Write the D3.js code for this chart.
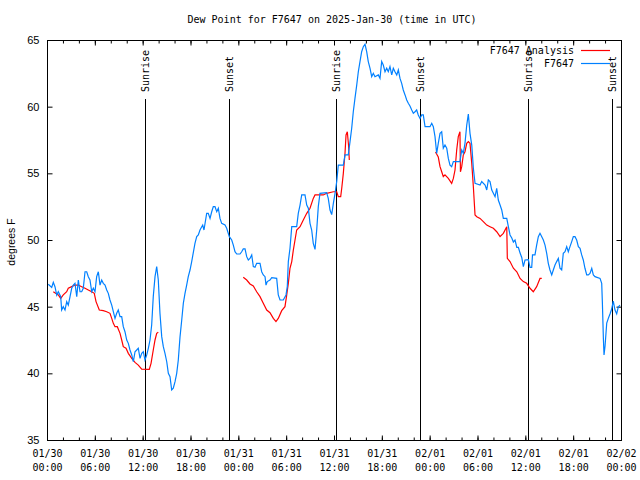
<!DOCTYPE html>
<html>
<head>
<meta charset="utf-8">
<script src="https://cdn.jsdelivr.net/npm/d3@7"></script>
<style>
  html, body { margin: 0; padding: 0; background: #fff; }
  svg { display: block; }
</style>
</head>
<body>
<svg id="chart" width="640" height="480"></svg>
<script>
// ---- Data (hours since 2025-01-30 00:00 UTC, dew point in °F) ----
const startDate = "2025-01-30T00:00:00Z";
const endDate = "2025-02-02T00:00:00Z";

const stationHours = [0.16,0.59,0.79,1.00,1.22,1.42,1.72,1.84,2.04,2.26,2.47,2.67,2.89,3.10,3.30,3.51,3.73,3.93,4.14,4.35,4.55,4.77,4.98,5.18,5.39,5.61,5.81,6.02,6.23,6.44,6.65,6.86,7.06,7.28,7.49,7.69,7.90,8.12,8.32,8.53,8.74,8.94,9.16,9.37,9.57,9.78,10.00,10.20,10.41,10.63,10.83,11.04,11.25,11.45,11.67,11.88,12.08,12.29,12.51,12.71,12.92,13.13,13.33,13.55,13.76,13.96,14.17,14.39,14.59,14.80,15.02,15.22,15.43,15.64,15.84,16.06,16.27,16.47,16.68,16.90,17.10,17.31,17.52,17.72,17.94,18.15,18.56,18.78,18.98,19.19,19.53,19.69,20.03,20.23,20.45,20.66,20.86,21.07,21.29,21.49,21.70,21.91,22.33,22.54,22.87,23.17,23.37,23.58,23.80,24.21,24.42,24.62,24.84,25.05,25.25,25.46,25.68,25.88,26.09,26.30,26.72,26.93,27.13,27.35,27.47,27.63,27.97,28.19,28.81,29.01,29.23,29.64,29.98,30.14,30.27,30.48,30.70,31.32,31.52,31.74,31.95,32.36,32.58,32.78,32.99,33.20,33.40,33.62,33.83,34.03,34.24,35.08,35.28,35.50,35.71,35.92,36.13,36.34,36.54,37.17,37.38,37.79,38.01,38.22,38.42,38.63,38.85,39.05,39.26,39.47,39.68,39.89,40.10,40.30,40.52,40.73,40.93,41.14,41.56,41.77,41.98,42.18,42.40,42.61,42.81,43.02,43.24,43.44,43.65,43.87,44.07,44.28,44.49,44.69,44.91,45.12,45.32,45.53,45.75,45.95,46.16,46.37,46.57,46.79,47.00,47.20,47.42,48.04,48.26,48.46,48.67,48.88,49.08,49.30,49.51,49.71,49.92,50.14,50.34,50.55,50.76,50.97,51.80,52.02,52.22,52.43,52.65,52.85,53.06,53.28,53.48,53.69,54.32,54.53,54.95,55.16,55.36,55.57,55.79,55.99,56.20,56.41,56.61,56.83,57.04,57.24,57.67,57.87,58.08,58.30,58.50,58.71,58.93,59.13,59.34,59.55,59.75,59.96,60.38,60.59,60.80,60.90,61.21,61.42,61.63,61.84,62.06,62.26,62.47,62.68,62.88,63.09,63.31,63.51,63.72,63.93,64.14,64.35,64.56,64.76,64.98,65.19,65.39,65.60,65.82,66.02,66.23,66.44,66.65,66.86,67.07,67.27,67.48,67.70,67.90,68.11,68.33,68.53,68.74,69.37,69.58,69.66,69.79,69.87,70.00,70.21,70.41,70.62,70.83,71.03,71.25,71.46,71.66,71.87];
const stationValues = [46.68,46.45,46.83,46.50,45.87,46.12,45.75,44.75,45.00,44.75,45.37,45.12,45.75,46.38,46.62,46.75,45.75,47.00,46.12,46.12,46.38,47.62,47.62,47.25,47.00,46.12,46.38,46.12,47.25,47.62,46.62,47.00,46.75,46.62,46.25,46.00,45.50,45.12,44.62,44.12,44.50,44.75,44.25,44.25,43.50,43.12,42.50,42.25,41.75,41.38,40.87,41.62,41.75,41.88,41.12,41.50,41.62,41.00,41.38,41.88,42.50,43.62,45.75,47.25,48.00,47.00,44.50,42.75,42.00,41.50,40.87,40.00,39.75,38.75,38.88,39.37,40.00,41.00,42.70,44.00,45.25,46.00,46.62,47.25,47.75,48.38,49.75,50.25,50.38,50.75,51.12,50.75,52.00,52.00,51.62,52.12,52.50,52.50,52.12,52.38,51.62,51.25,51.12,50.88,50.25,50.00,49.62,49.12,48.95,48.95,49.12,49.33,49.33,48.75,48.50,48.62,48.88,48.00,47.95,48.25,48.25,47.62,47.38,47.25,46.62,46.88,47.00,47.17,47.12,45.88,45.50,45.50,45.88,46.50,48.38,49.38,51.00,51.00,52.00,52.62,53.38,53.38,52.62,52.38,51.25,50.75,49.75,49.30,50.75,52.50,53.50,53.55,53.12,52.25,51.90,52.75,53.50,54.38,55.62,55.62,56.38,56.38,57.38,58.38,59.62,60.62,61.62,62.62,63.38,64.12,64.50,64.68,64.12,63.38,62.88,62.25,62.50,62.25,62.38,62.12,63.38,63.12,62.62,62.88,62.62,63.00,62.38,62.88,62.62,62.38,62.75,62.12,61.75,61.25,60.88,60.50,60.25,60.05,59.75,59.50,59.62,59.75,59.38,59.12,59.38,59.38,58.50,58.50,58.75,58.50,57.75,56.50,57.25,58.00,58.12,56.88,57.12,56.88,56.12,55.62,55.50,55.88,55.88,56.75,56.50,57.25,58.62,59.45,58.00,57.12,55.38,54.25,54.12,54.38,54.12,53.75,54.50,54.38,53.75,53.50,53.25,53.88,53.00,52.62,52.25,51.62,51.62,51.00,50.38,50.15,49.85,50.00,49.44,49.44,49.02,48.69,48.00,48.50,48.52,47.94,47.94,48.88,48.88,49.62,50.25,50.50,50.25,50.00,49.62,49.00,48.25,47.75,47.38,47.75,48.12,48.38,48.62,47.88,47.75,49.00,49.12,49.50,49.12,49.50,49.88,50.25,50.25,50.00,49.50,49.38,48.88,48.50,47.88,47.38,47.38,47.50,47.88,47.38,47.25,47.12,46.75,45.38,42.62,41.38,42.05,43.77,44.12,44.45,44.82,45.42,44.75,44.46,44.98,45.12];

// Analysis series: null marks a gap between segments
const analysisHours = [0.79,1.42,1.72,2.04,2.47,2.67,3.10,3.51,3.93,4.35,4.77,5.18,5.61,5.93,6.15,6.56,7.06,7.49,7.90,8.12,8.32,8.53,8.82,9.16,9.37,9.57,9.91,10.20,10.63,11.04,11.45,11.88,12.83,13.05,13.33,13.55,13.76,13.96,
  19.0,
  24.62,25.05,25.46,25.88,26.30,26.72,27.13,27.56,27.97,28.39,28.72,29.01,29.44,29.85,30.07,30.27,30.48,30.70,30.90,31.11,31.32,31.74,32.15,32.58,32.99,33.40,33.62,34.66,35.08,35.92,36.34,36.54,36.84,36.97,37.17,37.38,37.51,37.67,37.82,37.92,
  43.0,
  48.73,49.08,49.30,49.51,49.71,49.92,50.34,50.76,50.97,51.18,51.39,51.59,51.80,51.86,52.02,52.22,52.43,52.65,52.85,53.06,53.28,53.48,53.69,53.91,54.32,54.73,55.16,55.57,55.99,56.41,56.83,57.24,57.67,57.74,58.08,58.50,58.93,59.34,59.75,60.17,60.59,61.00,61.42,61.84,62.06];
const analysisValues = [46.12,45.88,45.62,45.88,46.12,46.38,46.50,46.62,46.62,46.50,46.38,46.25,46.12,46.00,45.38,44.75,44.70,44.62,44.50,44.12,43.75,43.50,43.50,43.00,42.50,42.00,41.88,41.50,41.12,40.82,40.62,40.32,40.30,40.75,41.75,42.50,43.00,43.08,
  null,
  47.20,47.00,46.70,46.55,46.12,45.75,45.25,44.75,44.55,44.12,43.88,44.12,44.70,45.00,45.88,46.75,47.88,48.38,49.25,50.00,50.75,51.00,51.50,52.00,52.38,53.12,53.38,53.38,53.50,53.62,53.62,53.25,53.25,53.88,55.00,56.50,57.88,58.12,57.12,56.00,
  null,
  56.60,56.22,55.50,55.12,54.75,54.88,54.62,54.25,54.62,55.25,56.75,57.75,58.12,55.12,55.50,56.38,56.62,57.25,57.38,57.25,55.75,54.00,51.88,51.75,51.62,51.38,51.12,51.00,50.88,50.62,50.25,50.50,51.00,48.62,48.38,47.88,47.62,47.12,46.88,46.75,46.38,46.12,46.50,47.12,47.12];

const eventLabels = ["Sunrise","Sunset","Sunrise","Sunset","Sunrise","Sunset"];
const eventTimes = ["2025-01-30T12:17:00Z","2025-01-30T22:50:00Z","2025-01-31T12:15:00Z","2025-01-31T22:47:00Z","2025-02-01T12:20:00Z","2025-02-01T22:52:00Z"];

const yTicks = [35,40,45,50,55,60,65];
const seriesNames = ["F7647 Analysis","F7647"];
const seriesColors = ["#ff0000","#0080ff"];
const titleText = "Dew Point for F7647 on 2025-Jan-30 (time in UTC)";
const yLabel = "degrees F";

// ---- Drawing ----
const svg = d3.select("#chart");
const L = 47, R = 621, T = 40, B = 440;
const t0 = new Date(startDate);
const hourToDate = h => new Date(t0.getTime() + h * 3600000);

const x = d3.scaleUtc().domain([new Date(startDate), new Date(endDate)]).range([L, R]);
const y = d3.scaleLinear().domain([35, 65]).range([B, T]);

const mono = "'DejaVu Sans Mono', 'Liberation Mono', monospace";
const sans = "'Liberation Sans', Arial, sans-serif";

// Title
svg.append("text").attr("x", 332).attr("y", 23).attr("text-anchor", "middle")
  .attr("font-family", mono).attr("font-size", 10).text(titleText);

// Y label
svg.append("text").attr("transform", "translate(15,242) rotate(-90)")
  .attr("text-anchor", "middle").attr("font-family", sans).attr("font-size", 10.5).text(yLabel);

// Axes
const gx = svg.append("g");
function styleAxis(g) { g.select(".domain").remove(); g.selectAll("line").attr("stroke", "#000"); }

const minorTicks = d3.utcHour.every(2).range(new Date(startDate), new Date(endDate));
const majorTicks = d3.utcHour.every(6).range(new Date(startDate), d3.utcHour.offset(new Date(endDate), 1));

gx.append("g").attr("transform", `translate(0,${B + 0.5})`)
  .call(d3.axisBottom(x).tickValues(minorTicks).tickSize(-3).tickFormat(""))
  .call(styleAxis);
gx.append("g").attr("transform", `translate(0,${B + 0.5})`)
  .call(d3.axisBottom(x).tickValues(majorTicks).tickSize(-5).tickFormat(""))
  .call(styleAxis);
gx.append("g").attr("transform", `translate(0,${T + 0.5})`)
  .call(d3.axisTop(x).tickValues(minorTicks).tickSize(-3).tickFormat(""))
  .call(styleAxis);
gx.append("g").attr("transform", `translate(0,${T + 0.5})`)
  .call(d3.axisTop(x).tickValues(majorTicks).tickSize(-5).tickFormat(""))
  .call(styleAxis);

// x tick labels (two lines)
const fmtDay = d3.utcFormat("%m/%d"), fmtTime = d3.utcFormat("%H:%M");
const xl = svg.append("g").attr("transform", `translate(0,${B})`)
  .call(d3.axisBottom(x).tickValues(majorTicks).tickSize(0).tickPadding(0).tickFormat(""));
xl.select(".domain").remove();
xl.selectAll(".tick").each(function(d) {
  const t = d3.select(this).select("text").attr("y", 0).attr("dy", null)
    .attr("font-family", mono).attr("font-size", 10).attr("fill", "#000");
  t.append("tspan").attr("x", 0).attr("y", 17).text(fmtDay(d));
  t.append("tspan").attr("x", 0).attr("y", 31).text(fmtTime(d));
});

// y axes
const gyl = svg.append("g").attr("transform", `translate(${L + 0.5},0)`)
  .call(d3.axisLeft(y).tickValues(yTicks).tickSize(-5).tickPadding(8).tickFormat(d3.format("d")))
  .call(styleAxis);
gyl.selectAll("text").attr("font-family", sans).attr("font-size", 11).attr("fill", "#000");
svg.append("g").attr("transform", `translate(${R + 0.5},0)`)
  .call(d3.axisRight(y).tickValues(yTicks).tickSize(-5).tickFormat(""))
  .call(styleAxis);

// frame
svg.append("rect").attr("x", L + 0.5).attr("y", T + 0.5).attr("width", R - L).attr("height", B - T)
  .attr("fill", "none").attr("stroke", "#000").attr("stroke-width", 1);

// Sunrise / sunset markers
eventTimes.forEach((t, i) => {
  const xp = Math.round(x(new Date(t))) + 0.5;
  svg.append("line").attr("x1", xp).attr("x2", xp).attr("y1", 99).attr("y2", B)
    .attr("stroke", "#000").attr("stroke-width", 1);
  svg.append("text").attr("transform", `translate(${xp + 3.5},92) rotate(-90)`)
    .attr("font-family", mono).attr("font-size", 10).text(eventLabels[i]);
});

// Lines
const lineGen = d3.line()
  .defined(d => d.v !== null)
  .x(d => x(hourToDate(d.h)))
  .y(d => y(d.v));

const analysis = analysisHours.map((h, i) => ({ h, v: analysisValues[i] }));
const station = stationHours.map((h, i) => ({ h, v: stationValues[i] }));

svg.append("path").datum(analysis).attr("d", lineGen)
  .attr("fill", "none").attr("stroke", seriesColors[0]).attr("stroke-width", 1.2);
svg.append("path").datum(station).attr("d", lineGen)
  .attr("fill", "none").attr("stroke", seriesColors[1]).attr("stroke-width", 1.2);

// Legend
seriesNames.forEach((name, i) => {
  const ly = 50 + i * 13;
  svg.append("text").attr("x", 574).attr("y", ly + 3.5).attr("text-anchor", "end")
    .attr("font-family", mono).attr("font-size", 10).text(name);
  svg.append("line").attr("x1", 581).attr("x2", 610).attr("y1", ly + 0.5).attr("y2", ly + 0.5)
    .attr("stroke", seriesColors[i]).attr("stroke-width", 1.2);
});
</script>
</body>
</html>
